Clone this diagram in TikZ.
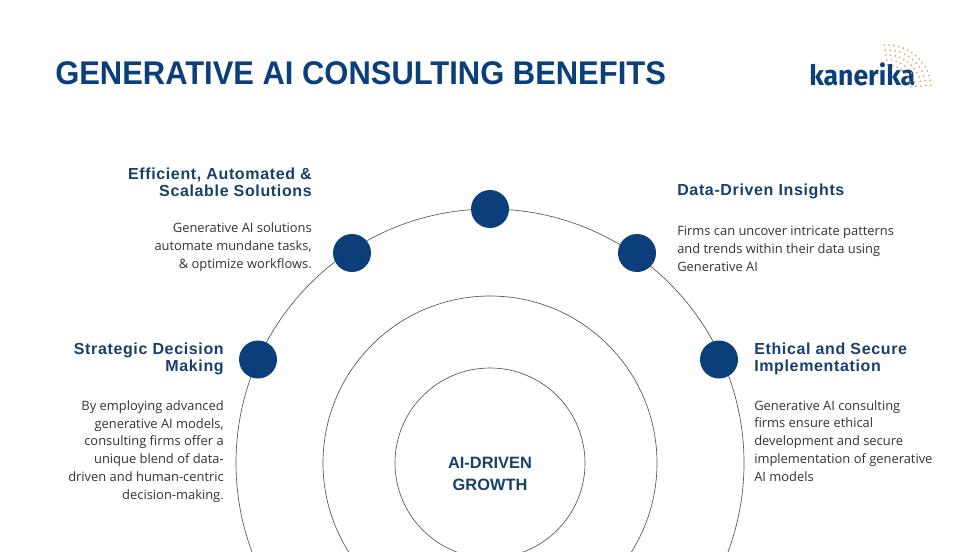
\documentclass[tikz,border=0pt]{standalone}
\usepackage{graphicx}
\usepackage{fontspec}
\setmainfont{Open Sans}
\newfontfamily\headfont[LetterSpace=4]{Liberation Sans}
\newfontfamily\titlefont{Liberation Sans}
\newfontfamily\logofont{Fira Sans}
\definecolor{navy}{HTML}{0A3F7C}
\definecolor{headnavy}{HTML}{17406D}
\definecolor{ringgray}{HTML}{55555F}
\definecolor{bodygray}{HTML}{333338}
\definecolor{logogold}{HTML}{D9A24E}
\tikzset{
  x=0.75pt,y=-0.75pt,
  ring/.style={draw=ringgray,line width=0.5pt,fill=none},
  dotnode/.style={circle,fill=navy,minimum size=28.5pt,inner sep=0pt},
  headr/.style={inner sep=0pt,align=right,anchor=east,text=headnavy,font=\headfont\fontsize{12}{12.6}\selectfont\bfseries},
  headl/.style={inner sep=0pt,align=left,anchor=west,text=headnavy,font=\headfont\fontsize{12}{12.6}\selectfont\bfseries},
  bodyr/.style={inner sep=0pt,align=right,anchor=east,text=bodygray,font=\fontsize{9.68}{13.4}\selectfont},
  bodyl/.style={inner sep=0pt,align=left,anchor=west,text=bodygray,font=\fontsize{9.68}{13.4}\selectfont},
}
\begin{document}
\begin{tikzpicture}
\useasboundingbox (0,0) rectangle (980,551);
\fill[white] (0,0) rectangle (980,551);
\begin{scope}
\clip (0,0) rectangle (980,551);
\draw[ring] (490,463) circle[radius=254];
\draw[ring] (490,463) circle[radius=167];
\draw[ring] (490,463) circle[radius=95];
\end{scope}
\node[dotnode] (d1) at (258,359.5) {};
\node[dotnode] (d2) at (352,253) {};
\node[dotnode] (d3) at (490,209) {};
\node[dotnode] (d4) at (637,253) {};
\node[dotnode] (d5) at (719,359.5) {};
\node[inner sep=0pt,anchor=west,text=navy,font=\titlefont\bfseries\fontsize{24.6}{28}\selectfont] (title) at (55,73) {\scalebox{.943}[1]{GENERATIVE AI CONSULTING BENEFITS}};
\node[headr] (h2) at (312,182) {Efficient, Automated \&\\Scalable Solutions};
\node[bodyr] (b2) at (312,247.5) {Generative AI solutions\\automate mundane tasks,\\\& optimize workflows.};
\node[headr] (h1) at (224,358.5) {Strategic Decision\\Making};
\node[bodyr] (b1) at (224,451.5) {By employing advanced\\generative AI models,\\consulting firms offer a\\unique blend of data-\\driven and human-centric\\decision-making.};
\node[headl] (h4) at (677,191) {Data-Driven Insights};
\node[bodyl] (b4) at (677,248.5) {Firms can uncover intricate patterns\\and trends within their data using\\Generative AI};
\node[headl] (h5) at (754,358.5) {Ethical and Secure\\Implementation};
\node[bodyl] (b5) at (754,441) {Generative AI consulting\\firms ensure ethical\\development and secure\\implementation of generative\\AI models};
\node[inner sep=0pt,align=center,text=headnavy,font=\titlefont\bfseries\fontsize{12.3}{16.6}\selectfont] (core) at (490,474) {AI-DRIVEN\\GROWTH};
\node[inner sep=0pt,anchor=west,text=navy,font=\logofont\bfseries\fontsize{21}{24}\selectfont] (logo) at (809,74.5) {\scalebox{.95}[1]{kanerika}};
\foreach \r/\n in {24/8,29/10,34/12,39/13,44/15}{
  \foreach \i in {1,...,\n}{
    \fill[logogold] ({887+\r*cos(-100+95*\i/\n)},{89+\r*sin(-100+95*\i/\n)}) circle[radius=0.9];
  }
}
\end{tikzpicture}
\end{document}
